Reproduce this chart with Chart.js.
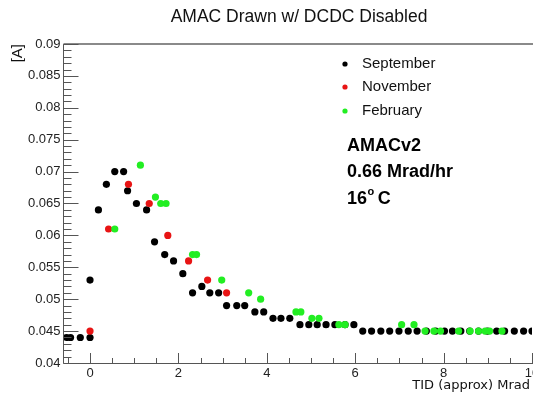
<!DOCTYPE html>
<html>
<head>
<meta charset="utf-8">
<script src="https://cdn.jsdelivr.net/npm/chart.js@4/dist/chart.umd.min.js"></script>
<style>
  html, body { margin: 0; padding: 0; background: #fff; overflow: hidden; width: 533px; height: 397px; }
  canvas { display: block; }
</style>
</head>
<body>
<canvas id="c" width="560" height="397" style="width:560px;height:397px"></canvas>
<script>
// ---- Data ----
const seriesNames = ["September", "November", "February"];

const sepX = [-0.53, -0.44, -0.22, 0.0, 0.0, 0.19, 0.37, 0.56, 0.76, 0.85, 1.05, 1.28, 1.46, 1.69, 1.89,
              2.10, 2.32, 2.53, 2.71, 2.91, 3.09, 3.32, 3.50, 3.73, 3.93, 4.14, 4.32, 4.52, 4.75, 4.95,
              5.14, 5.34, 5.54, 5.77, 5.97, 6.17, 6.37, 6.58, 6.78, 6.99, 7.20, 7.40, 7.61, 7.82, 8.02,
              8.20, 8.39, 8.59, 8.79, 8.99, 9.20, 9.38, 9.60, 9.81, 10.0];
const sepY = [0.044, 0.044, 0.044, 0.044, 0.053, 0.064, 0.068, 0.070, 0.070, 0.067, 0.065, 0.064, 0.059, 0.057, 0.056,
              0.054, 0.051, 0.052, 0.051, 0.051, 0.049, 0.049, 0.049, 0.048, 0.048, 0.047, 0.047, 0.047, 0.046, 0.046,
              0.046, 0.046, 0.046, 0.046, 0.046, 0.045, 0.045, 0.045, 0.045, 0.045, 0.045, 0.045, 0.045, 0.045, 0.045,
              0.045, 0.045, 0.045, 0.045, 0.045, 0.045, 0.045, 0.045, 0.045, 0.045];

const novX = [0.0, 0.42, 0.87, 1.34, 1.76, 2.23, 2.66, 3.09];
const novY = [0.045, 0.061, 0.068, 0.065, 0.060, 0.056, 0.053, 0.051];

const febX = [0.56, 1.14, 1.48, 1.60, 1.72, 2.32, 2.41, 2.98, 3.59, 3.86, 4.66, 4.77, 5.02, 5.18, 5.63, 5.77,
              7.05, 7.33, 7.58, 7.78, 7.93, 8.34, 8.60, 8.79, 8.94, 9.04, 9.32];
const febY = [0.061, 0.071, 0.066, 0.065, 0.065, 0.057, 0.057, 0.053, 0.051, 0.050, 0.048, 0.048, 0.047, 0.047, 0.046, 0.046,
              0.046, 0.046, 0.045, 0.045, 0.045, 0.045, 0.045, 0.045, 0.045, 0.045, 0.045];

const xTickValues = [0, 2, 4, 6, 8, 10];
const xTickLabels = ["0", "2", "4", "6", "8", "10"];
const yTickValues = [0.04, 0.045, 0.05, 0.055, 0.06, 0.065, 0.07, 0.075, 0.08, 0.085, 0.09];
const yTickLabels = ["0.04", "0.045", "0.05", "0.055", "0.06", "0.065", "0.07", "0.075", "0.08", "0.085", "0.09"];

const titleText = "AMAC Drawn w/ DCDC Disabled";
const xTitle = "TID (approx) Mrad";
const yTitle = "[A]";
const infoLines = ["AMACv2", "0.66 Mrad/hr"];

const colors = ["#000000", "#e81414", "#22ee22"];

function pts(xs, ys) { return xs.map((x, i) => ({ x: x, y: ys[i] })); }

const AXIS = "#555555";

const decor = {
  id: "decor",
  afterDraw(chart) {
    const ctx = chart.ctx;
    const { left, right, top, bottom } = chart.chartArea;
    const xs = chart.scales.x, ys = chart.scales.y;
    ctx.save();
    // axes
    ctx.strokeStyle = AXIS;
    ctx.lineWidth = 1;
    ctx.beginPath();
    ctx.moveTo(left, top); ctx.lineTo(left, bottom + 0.5);
    ctx.moveTo(left, bottom + 0.5); ctx.lineTo(right + 30, bottom + 0.5);
    ctx.stroke();
    // top frame line
    ctx.strokeStyle = "#8a8a8a";
    ctx.lineWidth = 2;
    ctx.beginPath();
    ctx.moveTo(left, top); ctx.lineTo(right + 30, top);
    ctx.stroke();
    // x ticks (inward)
    ctx.strokeStyle = AXIS;
    ctx.lineWidth = 1;
    ctx.beginPath();
    for (let k = -1; k <= 20; k++) {
      const v = k * 0.5;
      const px = Math.round(xs.getPixelForValue(v)) + 0.5;
      const len = (k % 4 === 0) ? 10 : 5;
      ctx.moveTo(px, bottom); ctx.lineTo(px, bottom - len);
    }
    // y ticks (inward)
    for (let k = 0; k <= 50; k++) {
      const v = 0.04 + k * 0.001;
      const py = Math.round(ys.getPixelForValue(v)) + 0.5;
      const len = (k % 5 === 0) ? 15 : 8;
      ctx.moveTo(left, py); ctx.lineTo(left + len, py);
    }
    ctx.stroke();

    // title
    ctx.fillStyle = "#111";
    ctx.font = "17.5px 'Liberation Sans', Arial, sans-serif";
    ctx.textAlign = "center";
    ctx.textBaseline = "middle";
    ctx.fillText(titleText, 299, 17);

    // x title
    ctx.font = "13px 'DejaVu Sans', sans-serif";
    ctx.textAlign = "right";
    ctx.fillStyle = "#111";
    ctx.fillText(xTitle, 530, 386);

    // y title
    ctx.save();
    ctx.translate(18, 44);
    ctx.rotate(-Math.PI / 2);
    ctx.font = "15px 'Liberation Sans', Arial, sans-serif";
    ctx.textAlign = "right";
    ctx.textBaseline = "middle";
    ctx.fillText(yTitle, 0, 0);
    ctx.restore();

    // legend
    const legY = [64, 87, 111];
    ctx.font = "15px 'Liberation Sans', Arial, sans-serif";
    ctx.textAlign = "left";
    ctx.textBaseline = "middle";
    for (let i = 0; i < seriesNames.length; i++) {
      ctx.fillStyle = colors[i];
      ctx.beginPath();
      ctx.arc(345, legY[i], 2.6, 0, Math.PI * 2);
      ctx.fill();
      ctx.fillStyle = "#111";
      ctx.fillText(seriesNames[i], 362, legY[i]);
    }

    // info text
    ctx.font = "bold 18px 'Liberation Sans', Arial, sans-serif";
    ctx.fillStyle = "#000";
    ctx.fillText(infoLines[0], 347, 146);
    ctx.fillText(infoLines[1], 347, 172);
    ctx.fillText("16", 347, 199);
    let w = ctx.measureText("16").width;
    ctx.font = "bold 11px 'Liberation Sans', Arial, sans-serif";
    ctx.fillText("o", 347 + w + 0.5, 192);
    const w2 = ctx.measureText("o").width;
    ctx.font = "bold 18px 'Liberation Sans', Arial, sans-serif";
    ctx.fillText(" C", 347 + w + w2 - 1, 199);
    ctx.restore();
  }
};

new Chart(document.getElementById("c"), {
  type: "scatter",
  data: {
    datasets: [
      { label: seriesNames[0], data: pts(sepX, sepY), backgroundColor: colors[0], borderColor: colors[0], pointRadius: 3.6, borderWidth: 0, order: 2 },
      { label: seriesNames[1], data: pts(novX, novY), backgroundColor: colors[1], borderColor: colors[1], pointRadius: 3.6, borderWidth: 0, order: 1 },
      { label: seriesNames[2], data: pts(febX, febY), backgroundColor: colors[2], borderColor: colors[2], pointRadius: 3.6, borderWidth: 0, order: 0 }
    ]
  },
  options: {
    responsive: false,
    animation: false,
    devicePixelRatio: 1,
    events: [],
    layout: { padding: { left: 0, right: 28, top: 44, bottom: 0 } },
    plugins: { legend: { display: false }, title: { display: false }, tooltip: { enabled: false } },
    scales: {
      x: {
        type: "linear",
        min: -0.6, max: 10,
        grid: { display: false, drawTicks: false },
        border: { display: false },
        afterBuildTicks: (s) => { s.ticks = xTickValues.map(v => ({ value: v })); },
        afterFit: (s) => { s.height = 34; },
        ticks: {
          padding: 3,
          color: "#222",
          font: { family: "'Liberation Sans', Arial, sans-serif", size: 13 },
          maxRotation: 0,
          autoSkip: false,
          callback: (v) => { const i = xTickValues.indexOf(v); return i >= 0 ? xTickLabels[i] : ""; }
        }
      },
      y: {
        type: "linear",
        min: 0.04, max: 0.09,
        grid: { display: false, drawTicks: false },
        border: { display: false },
        afterBuildTicks: (s) => { s.ticks = yTickValues.map(v => ({ value: v })); },
        afterFit: (s) => { s.width = 63.5; },
        ticks: {
          padding: 3,
          color: "#222",
          font: { family: "'Liberation Sans', Arial, sans-serif", size: 13 },
          autoSkip: false,
          callback: (v) => { const i = yTickValues.findIndex(t => Math.abs(t - v) < 1e-9); return i >= 0 ? yTickLabels[i] : ""; }
        }
      }
    }
  },
  plugins: [decor]
});
</script>
</body>
</html>
